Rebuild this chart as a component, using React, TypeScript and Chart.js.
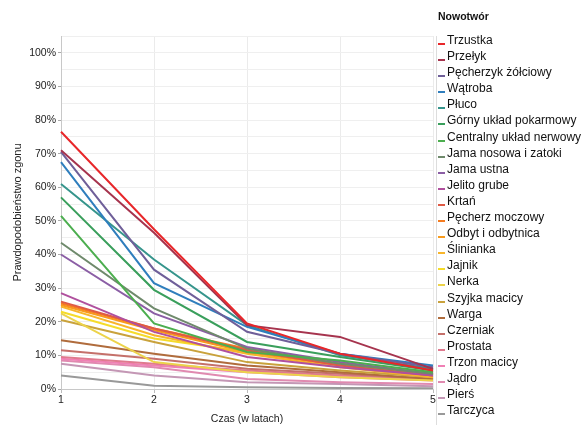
import React, { useEffect, useRef } from "react";
import { Chart, registerables } from "chart.js";

Chart.register(...registerables);

const years = ["1", "2", "3", "4", "5"];

const seriesNames = [
  "Trzustka",
  "Przełyk",
  "Pęcherzyk żółciowy",
  "Wątroba",
  "Płuco",
  "Górny układ pokarmowy",
  "Centralny układ nerwowy",
  "Jama nosowa i zatoki",
  "Jama ustna",
  "Jelito grube",
  "Krtań",
  "Pęcherz moczowy",
  "Odbyt i odbytnica",
  "Ślinianka",
  "Jajnik",
  "Nerka",
  "Szyjka macicy",
  "Warga",
  "Czerniak",
  "Prostata",
  "Trzon macicy",
  "Jądro",
  "Pierś",
  "Tarczyca",
];

const seriesColors = [
  "#e8272a",
  "#a6344e",
  "#6f5f99",
  "#2f7ebd",
  "#36958c",
  "#3a9f5c",
  "#4cae4f",
  "#6f8a6c",
  "#8b5ea5",
  "#b0509e",
  "#df5a45",
  "#f57c20",
  "#f99b1c",
  "#f8b52a",
  "#f5dc2a",
  "#ecd34a",
  "#c9a23c",
  "#b06c3c",
  "#c5706a",
  "#e07a8f",
  "#f080b5",
  "#e08ab0",
  "#c497b5",
  "#999999",
];

// Probability of death (%) by year after diagnosis
const trzustka = [76.5, 47.5, 19.5, 10.5, 5.5];
const przelyk = [71, 46.5, 19, 15.5, 6];
const pecherzyk = [70.5, 35.5, 17, 10.5, 6.5];
const watroba = [67.5, 31.5, 18.5, 10.5, 7];
const pluco = [61, 38.5, 19, 10, 6];
const gornyUklad = [57, 29.5, 14, 9.5, 5.5];
const cun = [51.5, 19.5, 11, 8.5, 5];
const jamaNosowa = [43.5, 24, 12, 7.5, 4.5];
const jamaUstna = [40, 22.5, 12.5, 8, 4.5];
const jelitoGrube = [28.5, 17, 9.5, 6.5, 4];
const krtan = [26, 18, 11.5, 7, 4];
const pecherzMoczowy = [25.5, 18, 12, 7.5, 4.5];
const odbyt = [25, 17.5, 11, 7, 4];
const slinianka = [24.5, 16, 10.5, 6.5, 3.5];
const jajnik = [23, 15, 11, 7.5, 5];
const nerka = [22.5, 8, 5, 3.5, 2.5];
const szyjka = [20.5, 14, 8, 5.5, 3.5];
const warga = [14.5, 10.5, 7, 5, 3];
const czerniak = [11.5, 9, 6, 4.5, 3];
const prostata = [9.5, 7.5, 5.5, 4, 3];
const trzonMacicy = [9, 7, 5, 3.5, 2.5];
const jadro = [8.5, 6.5, 3, 2, 1.5];
const piers = [7.5, 4, 2, 1.5, 0.8];
const tarczyca = [4, 1, 0.5, 0.3, 0.2];

const seriesValues = [
  trzustka, przelyk, pecherzyk, watroba, pluco, gornyUklad, cun, jamaNosowa,
  jamaUstna, jelitoGrube, krtan, pecherzMoczowy, odbyt, slinianka, jajnik, nerka,
  szyjka, warga, czerniak, prostata, trzonMacicy, jadro, piers, tarczyca,
];

const yTickMax = 105;
const yTickStep = 5;
const legendTitle = "Nowotwór";
const xTitle = "Czas (w latach)";
const yTitle = "Prawdopodobieństwo zgonu";

const FONT = "'Liberation Sans', Arial, sans-serif";

export default function App() {
  const canvasRef = useRef<HTMLCanvasElement>(null);

  useEffect(() => {
    document.body.style.margin = "0";
    const canvas = canvasRef.current;
    if (!canvas) return;
    const chart = new Chart(canvas, {
      type: "line",
      data: {
        labels: years,
        datasets: seriesNames.map((name, i) => ({
          label: name,
          data: seriesValues[i],
          borderColor: seriesColors[i],
          backgroundColor: seriesColors[i],
          borderWidth: 2,
          pointRadius: 0,
          tension: 0,
          fill: false,
        })),
      },
      options: {
        responsive: false,
        animation: false,
        layout: { padding: { top: 36, right: 154, bottom: 0, left: 0 } },
        plugins: {
          legend: { display: false },
          tooltip: { enabled: false },
        },
        scales: {
          x: {
            type: "category",
            offset: false,
            afterFit: (s: any) => {
              s.height = 36;
            },
            grid: {
              color: "#ebebeb",
              tickLength: 4,
              tickColor: "#bbbbbb",
            },
            border: { color: "#c8c8c8" },
            ticks: {
              color: "#222",
              font: { family: FONT, size: 10.5 },
              padding: 1,
              maxRotation: 0,
            },
            title: {
              display: true,
              text: xTitle,
              color: "#222",
              font: { family: FONT, size: 10.5 },
              padding: { top: 0, bottom: 0 },
            },
          },
          y: {
            min: 0,
            max: yTickMax,
            afterFit: (s: any) => {
              s.width = 61;
            },
            grid: {
              color: "#efefef",
              tickLength: 3,
              tickColor: (ctx: any) =>
                ctx.tick && ctx.tick.value % 10 === 0 && ctx.tick.value <= 100 ? "#aaaaaa" : "rgba(0,0,0,0)",
            },
            border: { color: "#c8c8c8" },
            ticks: {
              stepSize: yTickStep,
              color: "#222",
              font: { family: FONT, size: 10.5 },
              padding: 2,
              autoSkip: false,
              callback: (v: any) => (Number(v) % 10 === 0 && Number(v) <= 100 ? `${v}%` : ""),
            },
            title: {
              display: true,
              text: yTitle,
              color: "#222",
              font: { family: FONT, size: 11 },
              padding: { top: 11, bottom: 0 },
            },
          },
        },
      },
    });
    return () => chart.destroy();
  }, []);

  return (
    <div style={{ position: "relative", width: 587, height: 425, fontFamily: FONT }}>
      <canvas ref={canvasRef} width={587} height={425} style={{ display: "block" }} />
      <div
        style={{
          position: "absolute",
          left: 438,
          top: 9,
          fontSize: 10.5,
          fontWeight: "bold",
          color: "#111",
          lineHeight: "14px",
        }}
      >
        {legendTitle}
      </div>
      <div
        style={{
          position: "absolute",
          left: 436,
          top: 36,
          width: 150,
          height: 389,
          borderLeft: "1px solid #dddddd",
        }}
      >
        {seriesNames.map((name, i) => (
          <div
            key={name}
            style={{
              position: "relative",
              top: -4,
              height: 16.1,
              lineHeight: "16.1px",
              fontSize: 12,
              color: "#111",
              paddingLeft: 10,
              whiteSpace: "nowrap",
            }}
          >
            <span
              style={{
                position: "absolute",
                left: 1,
                top: 11,
                width: 7,
                height: 2,
                background: seriesColors[i],
              }}
            />
            {name}
          </div>
        ))}
      </div>
    </div>
  );
}
